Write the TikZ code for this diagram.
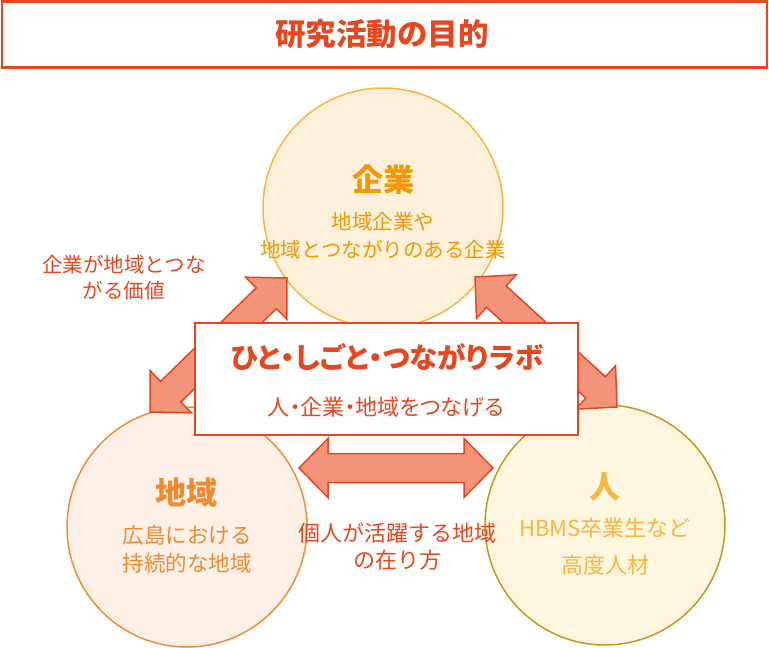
\documentclass[tikz,border=0pt]{standalone}
\usepackage{fontspec}
\setmainfont{Noto Sans CJK JP}
\newfontfamily\paltfont[RawFeature=+palt]{Noto Sans CJK JP}
\usetikzlibrary{calc}
\definecolor{redor}{HTML}{E8461E}
\definecolor{arrowfill}{HTML}{F29479}
\definecolor{topfill}{HTML}{FEF1DB}
\definecolor{topline}{HTML}{FAB53C}
\definecolor{toptext}{HTML}{F39800}
\definecolor{leftfill}{HTML}{FDF0E6}
\definecolor{leftline}{HTML}{F18D36}
\definecolor{lefttext}{HTML}{F08A2E}
\definecolor{rightfill}{HTML}{FFF6E0}
\definecolor{rightline}{HTML}{C9971C}
\definecolor{righttext}{HTML}{F9B53F}
\tikzset{
  bigcircle/.style={circle, minimum size=240pt, inner sep=0pt, line width=1.5pt},
  arrowstyle/.style={draw=redor, fill=arrowfill, line width=1.5pt, line join=miter},
  ctitle/.style={font=\fontsize{31}{36}\selectfont\bfseries, inner sep=0pt},
  ctext/.style={font=\fontsize{20.5}{28}\selectfont, align=center, inner sep=0pt},
  labeltext/.style={font=\fontsize{20.5}{26}\selectfont, align=center, inner sep=0pt, text=redor}
}
\newcommand\mydblarrow[2]{%
  \coordinate (hA) at ($(#1)!29pt!(#2)$);
  \coordinate (hB) at ($(#2)!29pt!(#1)$);
  \draw[arrowstyle] (#1) -- ($(hA)!29.5pt!90:(#2)$) -- ($(hA)!14.5pt!90:(#2)$)
    -- ($(hB)!14.5pt!-90:(#1)$) -- ($(hB)!29.5pt!-90:(#1)$) -- (#2)
    -- ($(hB)!29.5pt!90:(#1)$) -- ($(hB)!14.5pt!90:(#1)$)
    -- ($(hA)!14.5pt!-90:(#2)$) -- ($(hA)!29.5pt!-90:(#2)$) -- cycle;
}
\begin{document}
\begin{tikzpicture}[x=1pt,y=-1pt]
\useasboundingbox (0,0) rectangle (769,648);
% title
\node[draw=redor, line width=2.5pt, minimum width=765pt, minimum height=66pt, inner sep=0pt] (titlebox) at (384.5,34.5) {};
\node[font=\fontsize{30.5}{36}\selectfont\bfseries, text=redor, inner sep=0pt] (title) at (382,34) {研究活動の目的};
% circles
\node[bigcircle, draw=topline, fill=topfill] (kigyo) at (383,208) {};
\node[bigcircle, draw=leftline, fill=leftfill] (chiiki) at (187,527) {};
\node[bigcircle, draw=rightline, fill=rightfill] (hito) at (605,525) {};
% circle texts
\node[ctitle, text=toptext] (kigyoT) at (383,180) {企業};
\node[ctext, text=toptext] (kigyoS) at (383,236) {地域企業や\\地域とつながりのある企業};
\node[ctitle, text=lefttext] (chiikiT) at (186,493) {地域};
\node[ctext, text=lefttext, font=\fontsize{21.5}{28}\selectfont] (chiikiS) at (187,549) {広島における\\持続的な地域};
\node[ctitle, text=righttext] (hitoT) at (605,487) {人};
\node[ctext, text=righttext, font=\fontsize{22}{37}\selectfont] (hitoS) at (605,546.5) {HBMS卒業生など\\高度人材};
% arrows
\coordinate (tl1) at (150,412);
\coordinate (tl2) at (287,278);
\coordinate (tr1) at (475,277);
\coordinate (tr2) at (617,407);
\coordinate (h1) at (299,468);
\coordinate (h2) at (493,468);
\mydblarrow{tl1}{tl2}
\mydblarrow{tr1}{tr2}
\mydblarrow{h1}{h2}
% central box
\node[draw=redor, fill=white, line width=2pt, minimum width=383pt, minimum height=112pt, inner sep=0pt] (lab) at (386.5,379) {};
\node[font=\fontsize{28.5}{32}\selectfont\bfseries\paltfont, text=redor, inner sep=0pt] (labT) at (387,357) {ひと・しごと・つながりラボ};
\node[font=\fontsize{22}{26}\selectfont\paltfont, text=redor, inner sep=0pt] (labS) at (386,407) {人・企業・地域をつなげる};
% labels
\node[labeltext] (lbl1) at (124,277.5) {企業が地域とつな\\がる価値};
\node[labeltext, font=\fontsize{22}{27}\selectfont] (lbl2) at (397,546.5) {個人が活躍する地域\\の在り方};
\end{tikzpicture}
\end{document}
